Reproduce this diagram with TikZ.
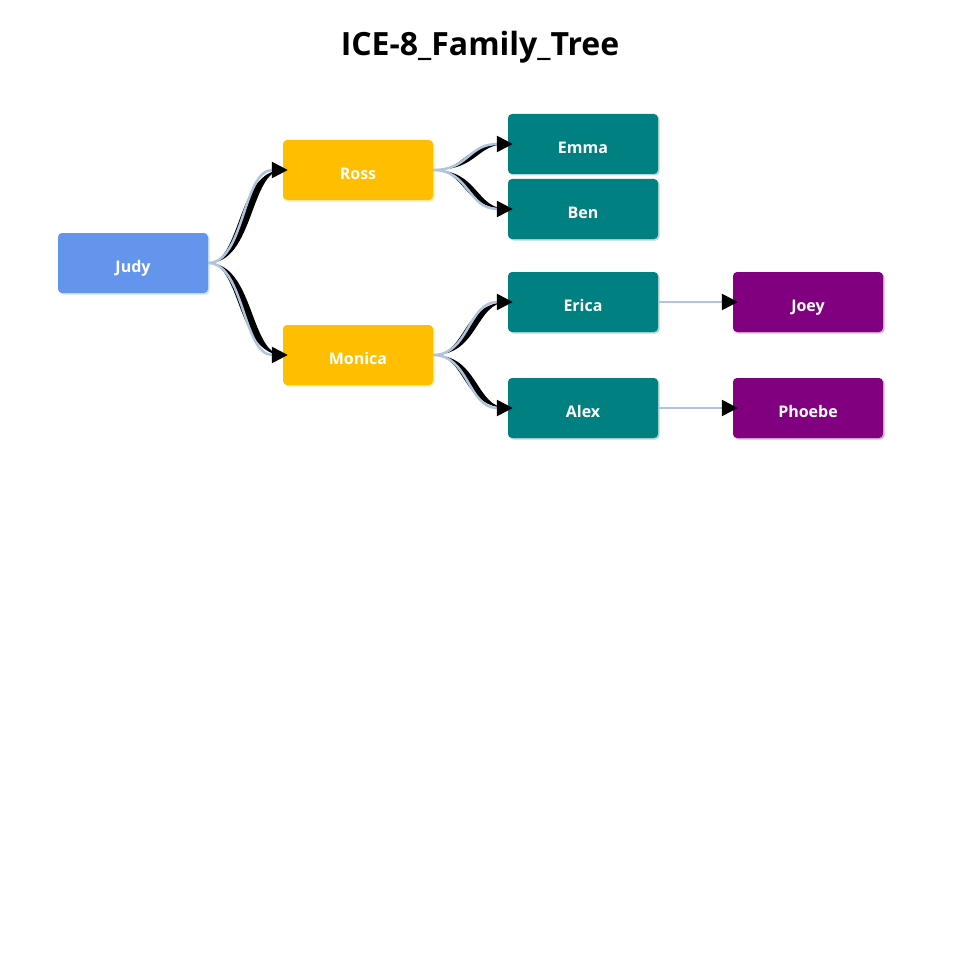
\documentclass[tikz,border=0pt]{standalone}
\usepackage{fontspec}
\setmainfont{Open Sans}
\usetikzlibrary{arrows.meta,shadows}

\definecolor{judyblue}{HTML}{6495ED}
\definecolor{amber}{HTML}{FFBF00}
\definecolor{tealbox}{HTML}{008080}
\definecolor{purplebox}{HTML}{800080}
\definecolor{steelline}{HTML}{B0C4DE}

\tikzset{
  person/.style={rounded corners=4pt, minimum width=150pt, minimum height=60pt,
    inner sep=0pt, text=white, font=\fontsize{16}{19}\selectfont\bfseries,
    text height=19pt, text depth=0pt,
    drop shadow={shadow xshift=1.5pt, shadow yshift=-1.5pt, opacity=.3, fill=#1}, fill=#1},
  wedge/.style={fill=black},
  link/.style={draw=steelline, line width=2.5pt, -{Triangle[length=16pt,width=16pt,color=black]}, shorten >=-5pt}
}

\begin{document}
\begin{tikzpicture}[x=1pt, y=-1pt]
    \useasboundingbox (0,0) rectangle (960,960);
    \node[anchor=base] (title) at (480,56) {\fontsize{32}{38}\selectfont\bfseries ICE-8\_Family\_Tree};

    \node[person=judyblue] (judy) at (133,263) {Judy};
    \node[person=amber] (ross) at (358,170) {Ross};
    \node[person=amber] (monica) at (358,355) {Monica};
    \node[person=tealbox] (emma) at (583,144) {Emma};
    \node[person=tealbox] (ben) at (583,209) {Ben};
    \node[person=tealbox] (erica) at (583,302) {Erica};
    \node[person=tealbox] (alex) at (583,408) {Alex};
    \node[person=purplebox] (joey) at (808,302) {Joey};
    \node[person=purplebox] (phoebe) at (808,408) {Phoebe};

    % curved links: black wedge under a light line
    \foreach \from/\to in {judy/ross, judy/monica, ross/emma, ross/ben, monica/erica, monica/alex}{
        \fill[wedge] (\from.east) .. controls +(33,0) and +(-46,0) .. (\to.west)
            .. controls +(-33,0) and +(46,0) .. (\from.east);
        \draw[link] (\from.east) .. controls +(36,0) and +(-40,0) .. (\to.west);
    }

    % straight links
    \draw[link] (erica.east) -- (joey.west);
    \draw[link] (alex.east) -- (phoebe.west);
\end{tikzpicture}
\end{document}
